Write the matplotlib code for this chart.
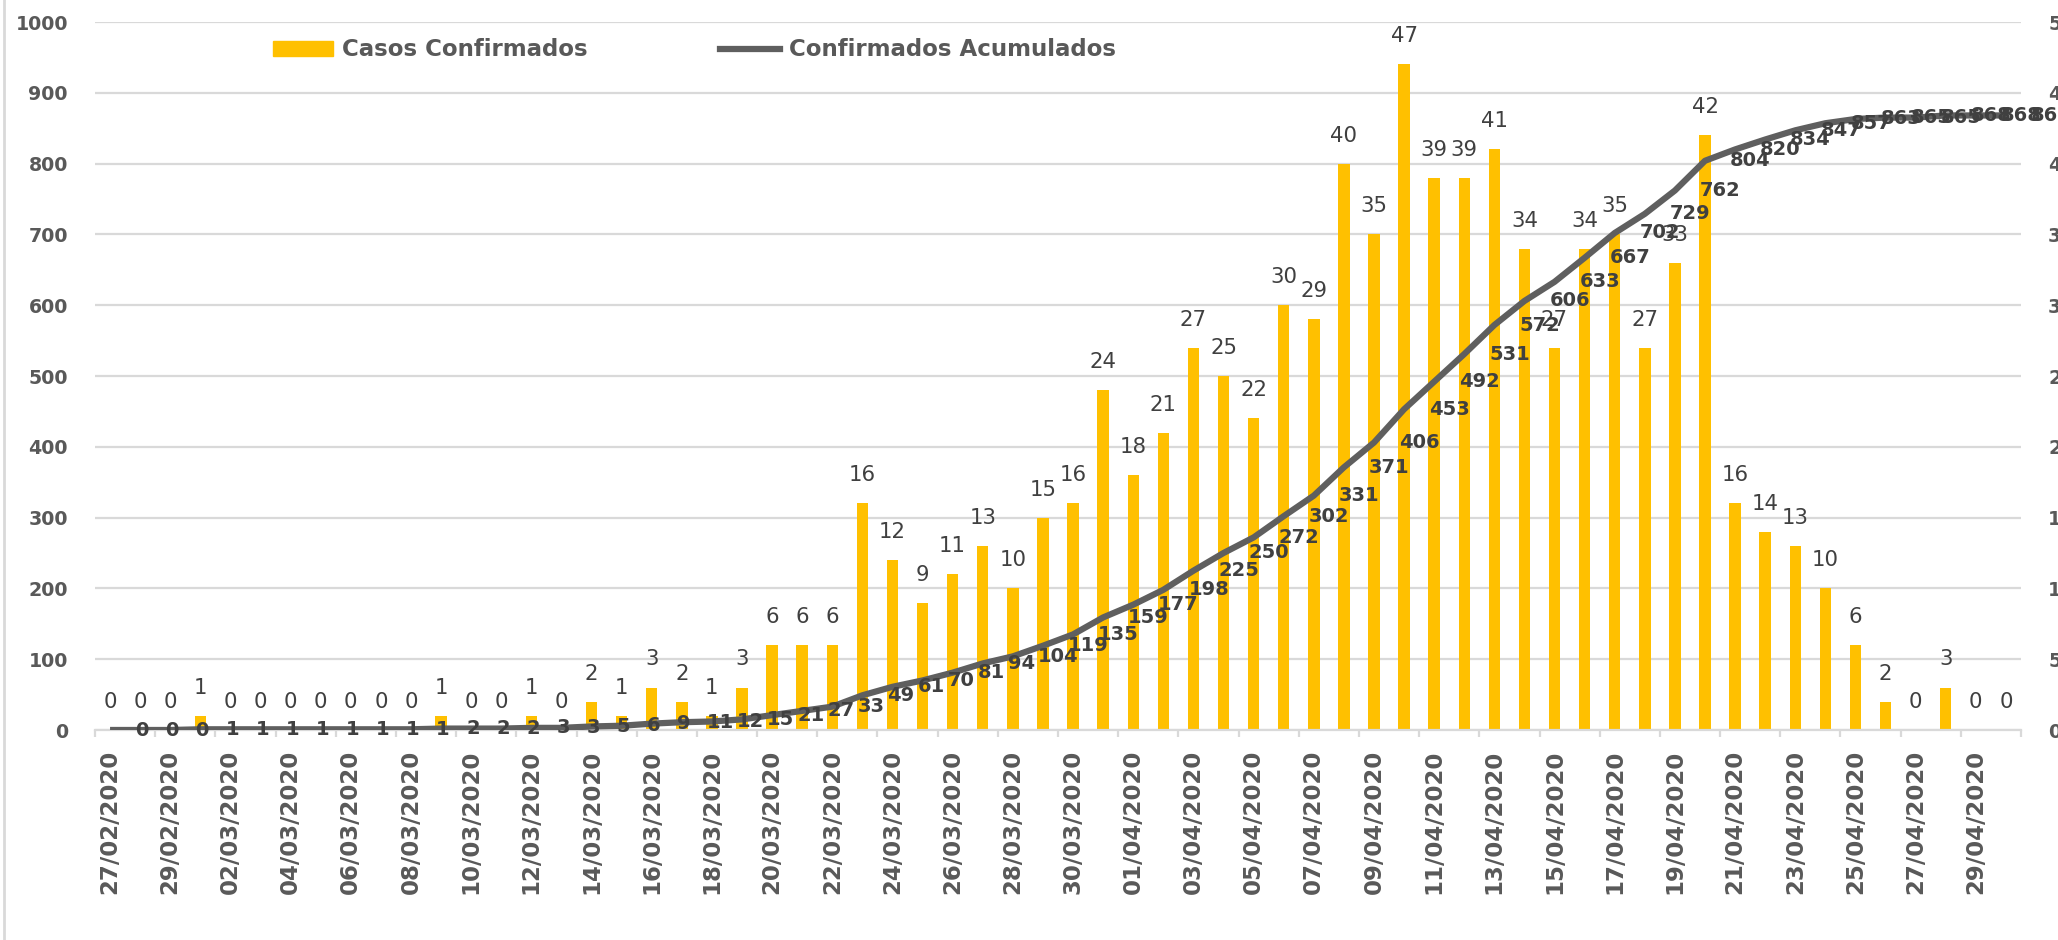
import matplotlib
matplotlib.use("Agg")
import matplotlib.pyplot as plt
import numpy as np
import pandas as pd
from matplotlib.lines import Line2D
from matplotlib.patches import Patch

# ------------------------------------------------------------------
# Data
# ------------------------------------------------------------------
DATES = pd.date_range("2020-02-27", "2020-04-30", freq="D").strftime("%d/%m/%Y").tolist()

CASOS = [0, 0, 0, 1, 0, 0, 0, 0, 0, 0, 0, 1, 0, 0, 1, 0, 2, 1, 3, 2, 1, 3,
         6, 6, 6, 16, 12, 9, 11, 13, 10, 15, 16, 24, 18, 21, 27, 25, 22, 30,
         29, 40, 35, 47, 39, 39, 41, 34, 27, 34, 35, 27, 33, 42, 16, 14, 13,
         10, 6, 2, 0, 3, 0, 0]

ACUMULADOS = [0, 0, 0, 1, 1, 1, 1, 1, 1, 1, 1, 2, 2, 2, 3, 3, 5, 6, 9, 11,
              12, 15, 21, 27, 33, 49, 61, 70, 81, 94, 104, 119, 135, 159,
              177, 198, 225, 250, 272, 302, 331, 371, 406, 453, 492, 531,
              572, 606, 633, 667, 702, 729, 762, 804, 820, 834, 847, 857,
              863, 865, 865, 868, 868, 868]

LEFT_TICKS = [0, 100, 200, 300, 400, 500, 600, 700, 800, 900, 1000]
RIGHT_TICKS = [0, 5, 10, 15, 20, 25, 30, 35, 40, 45, 50]

# ------------------------------------------------------------------
# Style
# ------------------------------------------------------------------
BAR_COLOR = "#FFC000"
LINE_COLOR = "#5F5F5F"
AXIS_TEXT = "#595959"
LABEL_TEXT = "#404040"
GRID_COLOR = "#D9D9D9"

W, H = 2058, 940

fig = plt.figure(figsize=(W / 100, H / 100), dpi=100)
fig.subplots_adjust(left=95 / W, right=2021 / W, top=1 - 22 / H, bottom=1 - 730 / H)
ax = fig.add_subplot(111)
ax2 = ax.twinx()

x = np.arange(len(DATES))

# bars on the right-hand scale (0-50)
bars = ax2.bar(x, CASOS, width=0.38, color=BAR_COLOR, zorder=2)
ax2.bar_label(bars, labels=[str(v) for v in CASOS], padding=13,
              fontsize=15.3, color=LABEL_TEXT, family="DejaVu Sans")
ax2.set_ylim(0, 50)
ax2.set_yticks(RIGHT_TICKS)
ax2.set_axisbelow(True)
ax2.yaxis.grid(True, color=GRID_COLOR, linewidth=1.6)

# cumulative line on the left-hand scale, drawn above the bars
ax.set_zorder(ax2.get_zorder() + 1)
ax.patch.set_visible(False)
ax.plot(x, ACUMULADOS, color=LINE_COLOR, linewidth=4.5, solid_capstyle="butt",
        solid_joinstyle="round", zorder=3)
for xi, v in zip(x, ACUMULADOS):
    ax.annotate(str(v), (xi, v), xytext=(18, 0), textcoords="offset points",
                ha="left", va="center", fontsize=14, fontweight="bold",
                color=LABEL_TEXT, family="DejaVu Sans", zorder=4)

ax.set_ylim(0, 1000)
ax.set_yticks(LEFT_TICKS)
ax.set_xlim(-0.5, len(DATES) - 0.5)

# x axis: labels every other day, tick marks on category boundaries
ax.set_xticks(x[::2])
ax.set_xticklabels(DATES[::2], rotation=90)
ax.set_xticks(np.arange(-0.5, len(DATES), 2), minor=True)
ax.tick_params(axis="x", which="major", length=0, pad=14)
ax.tick_params(axis="x", which="minor", length=5, width=1.6, color=GRID_COLOR)

for a in (ax, ax2):
    for s in a.spines.values():
        s.set_visible(False)
ax.spines["bottom"].set_visible(True)
ax.spines["bottom"].set_color(GRID_COLOR)
ax.spines["bottom"].set_linewidth(1.6)

ax.tick_params(axis="y", length=0, pad=19.5)
ax2.tick_params(axis="y", length=0, pad=19.5)
for lab in ax.get_yticklabels() + ax2.get_yticklabels():
    lab.set_fontsize(13.7)
    lab.set_fontweight("bold")
    lab.set_color(AXIS_TEXT)
    lab.set_family("DejaVu Sans")
for lab in ax.get_xticklabels():
    lab.set_fontsize(16.5)
    lab.set_fontweight("bold")
    lab.set_color(AXIS_TEXT)
    lab.set_family("DejaVu Sans")

handles = [Patch(color=BAR_COLOR), Line2D([], [], color=LINE_COLOR, linewidth=4.5)]
fig.legend(handles, ["Casos Confirmados", "Confirmados Acumulados"],
           loc="center left", bbox_to_anchor=(273 / W, 1 - 50 / H), ncol=2,
           frameon=False, handlelength=2.6, handletextpad=0.4, columnspacing=5.8,
           handleheight=0.6, borderpad=0, borderaxespad=0,
           prop={"weight": "bold", "size": 16.5, "family": "DejaVu Sans"},
           labelcolor=AXIS_TEXT)

# chart-area border (only the left edge is visible in the crop)
fig.add_artist(Line2D([3.5 / W, 3.5 / W], [0, 1], transform=fig.transFigure,
                      color=GRID_COLOR, linewidth=2))

fig.savefig("out.png", dpi=100)
